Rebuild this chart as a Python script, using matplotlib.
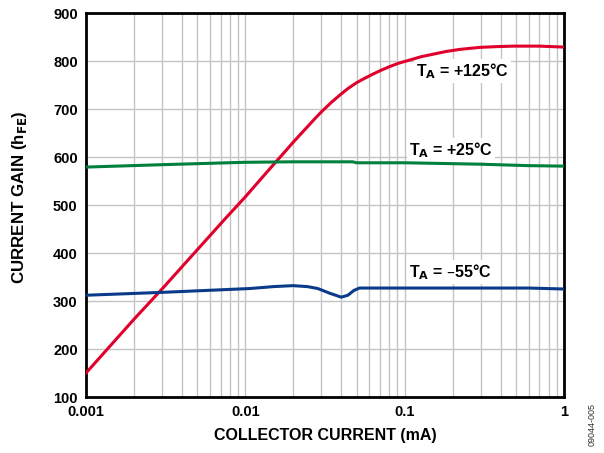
import matplotlib
matplotlib.use("Agg")
import matplotlib.pyplot as plt
import numpy as np

plt.rcParams['font.family'] = ['Liberation Sans', 'DejaVu Sans']

# Data (collector current in mA, current gain hFE)
x_125 = [0.001, 0.002, 0.003, 0.005, 0.0075, 0.01, 0.0125, 0.015, 0.0175, 0.02, 0.0236,
         0.027, 0.030, 0.0347, 0.0395, 0.0442, 0.05, 0.0561, 0.0635, 0.0714, 0.08, 0.0908,
         0.105, 0.127, 0.155, 0.183, 0.22, 0.25, 0.30, 0.38, 0.48, 0.70, 1.0]
y_125 = [150, 262, 325, 407, 472, 517, 554, 584, 609, 631, 657,
         678, 694, 714, 730, 743, 755, 764, 773, 781, 788, 795,
         801, 809, 815, 820, 824, 826, 828.5, 830, 831, 831, 829]

x_25 = [0.001, 0.003, 0.01, 0.02, 0.047, 0.05, 0.1, 0.3, 0.6, 1.0]
y_25 = [579, 584, 589, 590, 590, 588, 588, 585, 582, 581]

x_m55 = [0.001, 0.003, 0.0107, 0.015, 0.0199, 0.0245, 0.0285, 0.034, 0.040, 0.044,
         0.048, 0.052, 0.1, 0.3, 0.6, 1.0]
y_m55 = [312, 318, 326, 330, 332, 330, 326, 316, 308, 312, 322, 327, 327, 327, 327, 325]

labels = ["+125°C", "+25°C", "–55°C"]
xticks = [0.001, 0.01, 0.1, 1]
xtick_labels = ["0.001", "0.01", "0.1", "1"]
yticks = [100, 200, 300, 400, 500, 600, 700, 800, 900]

fig = plt.figure(figsize=(6.04, 4.53), dpi=100)
ax = fig.add_axes([0.1424, 0.1236, 0.7914, 0.8477])

ax.set_xscale('log')
ax.set_xlim(0.001, 1)
ax.set_ylim(100, 900)

ax.grid(True, which='both', axis='x', color='#c4c4c4', linewidth=1.0)
ax.grid(True, which='major', axis='y', color='#c4c4c4', linewidth=1.0)
ax.set_axisbelow(True)

ax.plot(x_125, y_125, color='#e0002b', linewidth=2.2, zorder=3, solid_joinstyle='round')
ax.plot(x_25, y_25, color='#00803c', linewidth=2.2, zorder=3, solid_joinstyle='round')
ax.plot(x_m55, y_m55, color='#0a3a8a', linewidth=2.2, zorder=3, solid_joinstyle='round')

ax.set_xticks(xticks)
ax.set_xticklabels(xtick_labels)
ax.set_yticks(yticks)
ax.tick_params(which='both', length=0, labelsize=10.5, pad=6)
for lbl in ax.get_xticklabels() + ax.get_yticklabels():
    lbl.set_fontweight('bold')

for s in ax.spines.values():
    s.set_linewidth(2.0)
    s.set_color('black')

ax.set_xlabel("COLLECTOR CURRENT (mA)", fontsize=11.5, fontweight='bold', labelpad=6)
ax.set_ylabel("CURRENT GAIN (h$_\\mathbf{FE}$)", fontsize=12.2, fontweight='bold')
ax.yaxis.set_label_coords(-0.12, 0.52)

bbox = dict(facecolor='white', edgecolor='none', pad=1.5)
ax.text(0.118, 779, "T$_\\mathbf{A}$ = " + labels[0], fontsize=11.5, fontweight='bold',
        ha='left', va='center', bbox=bbox, zorder=2.5)
ax.text(0.107, 615, "T$_\\mathbf{A}$ = " + labels[1], fontsize=11.5, fontweight='bold',
        ha='left', va='center', bbox=bbox, zorder=2.5)
ax.text(0.107, 360, "T$_\\mathbf{A}$ = " + labels[2], fontsize=11.5, fontweight='bold',
        ha='left', va='center', bbox=bbox, zorder=2.5)

fig.text(0.980, 0.062, "09044-005", rotation=90, fontsize=6.5, ha='center', va='center',
         color='#333333')

fig.savefig("out.png", dpi=100)
